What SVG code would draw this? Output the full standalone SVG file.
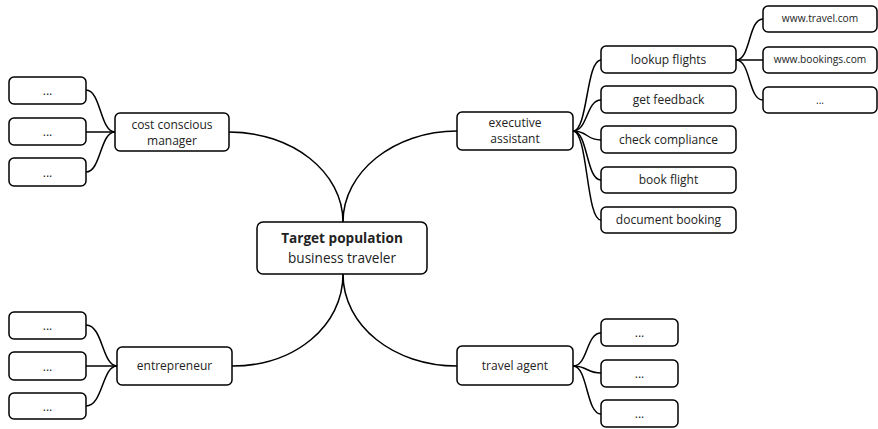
<svg xmlns="http://www.w3.org/2000/svg" width="878" height="429" viewBox="0 0 878 429">
<style>
rect{fill:#fff;stroke:#000;stroke-width:1.5}
text{font-family:"Open Sans","Noto Sans",sans-serif;font-size:12px;fill:#222;text-anchor:middle}
.s{font-size:10.2px}
.c{font-size:13.6px}
.b{font-weight:bold}
#connectors path{fill:none;stroke:#000;stroke-width:1.5}
</style>
<g id="connectors">
<path d="M229,132 C292,132 343,172 343,222"/>
<path d="M457,131 C394,131 343,172 343,222"/>
<path d="M232,366 C295,366 343,326 343,274"/>
<path d="M457,366 C394,366 343,326 343,274"/>
<path d="M115,132 C100,132 101,90 86,90"/>
<path d="M115,132 C100,132 101,132 86,132"/>
<path d="M115,132 C100,132 101,172 86,172"/>
<path d="M117,366 C102,366 103,325 86,325"/>
<path d="M117,366 C102,366 103,366 86,366"/>
<path d="M117,366 C102,366 103,406 86,406"/>
<path d="M573,131 C588,131 586,60 601,60"/>
<path d="M573,131 C588,131 586,100 601,100"/>
<path d="M573,131 C588,131 586,140 601,140"/>
<path d="M573,131 C588,131 586,180 601,180"/>
<path d="M573,131 C588,131 586,220 601,220"/>
<path d="M736,60 C751,60 748,19 763,19"/>
<path d="M736,60 C751,60 748,60 763,60"/>
<path d="M736,60 C751,60 748,100 763,100"/>
<path d="M573,366 C588,366 586,333 601,333"/>
<path d="M573,366 C588,366 586,373 601,373"/>
<path d="M573,366 C588,366 586,414 601,414"/>
</g>
<g id="central"><rect x="257" y="222" width="170" height="52" rx="6"/><text class="c b" x="342" y="243">Target population</text><text class="c" x="342" y="263">business traveler</text></g>
<g id="cost"><rect x="115" y="113" width="114" height="38" rx="5"/><text x="172" y="129">cost conscious</text><text x="172" y="145">manager</text></g>
<g id="cost1"><rect x="9" y="77" width="77" height="27" rx="5"/><text x="47.5" y="95">...</text></g>
<g id="cost2"><rect x="9" y="118" width="77" height="27" rx="5"/><text x="47.5" y="136">...</text></g>
<g id="cost3"><rect x="9" y="158" width="77" height="28" rx="5"/><text x="47.5" y="177">...</text></g>
<g id="entre"><rect x="117" y="347" width="115" height="38" rx="5"/><text x="174.5" y="370">entrepreneur</text></g>
<g id="entre1"><rect x="9" y="312" width="77" height="27" rx="5"/><text x="47.5" y="330">...</text></g>
<g id="entre2"><rect x="9" y="352" width="77" height="28" rx="5"/><text x="47.5" y="371">...</text></g>
<g id="entre3"><rect x="9" y="393" width="77" height="26" rx="5"/><text x="47.5" y="411">...</text></g>
<g id="exec"><rect x="457" y="112" width="116" height="38" rx="5"/><text x="515" y="127">executive</text><text x="515" y="143">assistant</text></g>
<g id="lookup"><rect x="601" y="46" width="135" height="27" rx="5"/><text x="668.5" y="64">lookup flights</text></g>
<g id="feedback"><rect x="601" y="86" width="135" height="27" rx="5"/><text x="668.5" y="104">get feedback</text></g>
<g id="compliance"><rect x="601" y="126" width="135" height="27" rx="5"/><text x="668.5" y="144">check compliance</text></g>
<g id="book"><rect x="601" y="167" width="135" height="26" rx="5"/><text x="668.5" y="184">book flight</text></g>
<g id="document"><rect x="601" y="207" width="135" height="26" rx="5"/><text x="668.5" y="224">document booking</text></g>
<g id="travelcom"><rect x="763" y="6" width="114" height="26" rx="5"/><text class="s" x="820" y="22">www.travel.com</text></g>
<g id="bookingscom"><rect x="763" y="47" width="114" height="26" rx="5"/><text class="s" x="820" y="63">www.bookings.com</text></g>
<g id="lookup3"><rect x="763" y="87" width="114" height="26" rx="5"/><text class="s" x="820" y="104">...</text></g>
<g id="agent"><rect x="457" y="346" width="116" height="39" rx="5"/><text x="515" y="370">travel agent</text></g>
<g id="agent1"><rect x="601" y="319" width="77" height="27" rx="5"/><text x="639.5" y="337">...</text></g>
<g id="agent2"><rect x="601" y="360" width="77" height="27" rx="5"/><text x="639.5" y="378">...</text></g>
<g id="agent3"><rect x="601" y="400" width="77" height="27" rx="5"/><text x="639.5" y="418">...</text></g>
</svg>
